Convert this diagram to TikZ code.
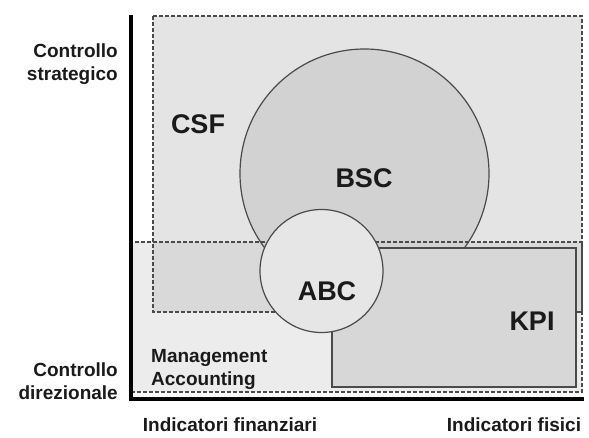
\documentclass[tikz,border=0pt]{standalone}
\usepackage{fontspec}
\setmainfont{Liberation Sans}
\definecolor{csffill}{HTML}{E4E4E4}
\definecolor{mafill}{HTML}{ECECEC}
\definecolor{ovfill}{HTML}{D9D9D9}
\definecolor{bscfill}{HTML}{D2D2D2}
\definecolor{abcfill}{HTML}{E6E6E6}
\definecolor{kpifill}{HTML}{D7D7D7}
\definecolor{edge}{HTML}{4A4A4A}
\definecolor{ink}{HTML}{1A1A1A}
\begin{document}
\begin{tikzpicture}[x=1pt,y=-1pt,
  dashbox/.style={draw=edge,line width=1.1pt,dash pattern=on 4pt off 2pt},
  solidline/.style={draw=edge,line width=1.2pt},
  biglabel/.style={font=\bfseries\fontsize{27}{32}\selectfont,text=ink,inner sep=0pt},
  smalllabel/.style={font=\bfseries\fontsize{19}{23}\selectfont,text=ink,inner sep=0pt},
  axisline/.style={line width=4pt,black}]
\useasboundingbox (0,0) rectangle (589,437);
% CSF area
\fill[csffill] (153,16) rectangle (582,312);
% Management accounting area
\fill[mafill] (131,242) rectangle (582,392);
% overlap
\fill[ovfill] (153,242) rectangle (582,312);
% BSC circle (clipped above KPI)
\begin{scope}
\clip (0,0) rectangle (589,248);
\fill[bscfill] (364.5,173.5) circle (124.5);
\draw[solidline] (364.5,173.5) circle (124.5);
\end{scope}
% dashed outlines
\draw[dashbox] (153,16) rectangle (582,312);
\draw[dashbox] (131,242) rectangle (582,392);
% KPI rectangle
\filldraw[fill=kpifill,solidline] (332,248) rectangle (576,387);
% ABC circle
\filldraw[fill=abcfill,solidline] (321.5,271) circle (61.5);
% axes
\coordinate (top) at (131,15);
\coordinate (origin) at (131,399);
\coordinate (right) at (584,399);
\draw[axisline] (top) -- (origin) -- (right);
% labels
\node[biglabel] (csf) at (198,124) {CSF};
\node[biglabel] (bsc) at (364,178) {BSC};
\node[biglabel] (abc) at (327,291) {ABC};
\node[biglabel] (kpi) at (532,321) {KPI};
\node[smalllabel,align=left,anchor=west] (ma) at (151,369) {Management\\Accounting};
\node[smalllabel,align=right,anchor=east] (cs) at (118,64) {Controllo\\strategico};
\node[smalllabel,align=right,anchor=east] (cd) at (118,381) {Controllo\\direzionale};
\node[smalllabel] (ifin) at (230,425) {Indicatori finanziari};
\node[smalllabel] (ifis) at (514,425) {Indicatori fisici};
\end{tikzpicture}
\end{document}
